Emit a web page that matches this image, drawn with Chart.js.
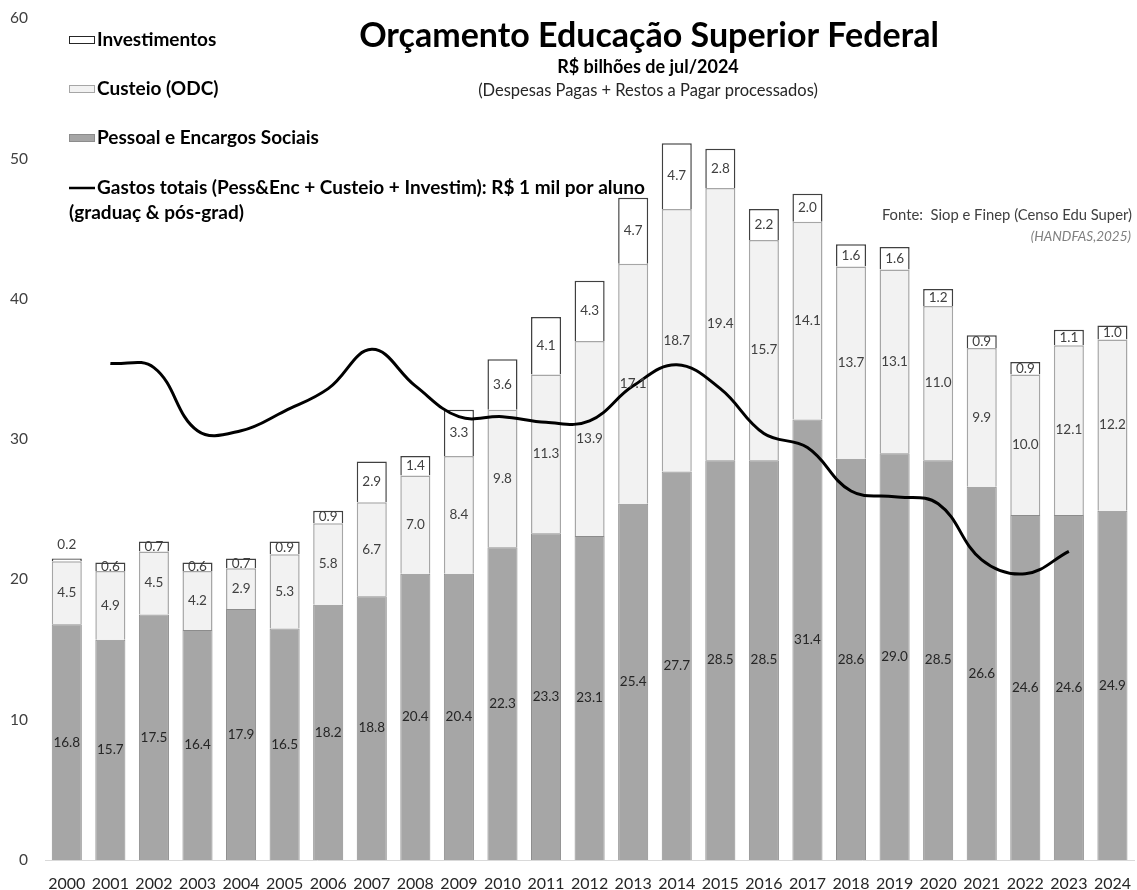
<!DOCTYPE html>
<html>
<head>
<meta charset="utf-8">
<script src="https://cdn.jsdelivr.net/npm/chart.js@4.4.1/dist/chart.umd.min.js"></script>
<style>
  html, body { margin: 0; padding: 0; background: #fff; }
</style>
</head>
<body>
<canvas id="orcChart" width="1137" height="890"></canvas>
<script>
var years = ["2000","2001","2002","2003","2004","2005","2006","2007","2008","2009","2010","2011","2012",
  "2013","2014","2015","2016","2017","2018","2019","2020","2021","2022","2023","2024"];
var pessoal = [16.8, 15.7, 17.5, 16.4, 17.9, 16.5, 18.2, 18.8, 20.4, 20.4, 22.3, 23.3, 23.1,
  25.4, 27.7, 28.5, 28.5, 31.4, 28.6, 29.0, 28.5, 26.6, 24.6, 24.6, 24.9];
var custeio = [4.5, 4.9, 4.5, 4.2, 2.9, 5.3, 5.8, 6.7, 7.0, 8.4, 9.8, 11.3, 13.9,
  17.1, 18.7, 19.4, 15.7, 14.1, 13.7, 13.1, 11.0, 9.9, 10.0, 12.1, 12.2];
var investimentos = [0.2, 0.6, 0.7, 0.6, 0.7, 0.9, 0.9, 2.9, 1.4, 3.3, 3.6, 4.1, 4.3,
  4.7, 4.7, 2.8, 2.2, 2.0, 1.6, 1.6, 1.2, 0.9, 0.9, 1.1, 1.0];
// R$ mil por aluno
var gastoPorAluno = [null, 35.4, 35.1, 30.6, 30.6, 32.0, 33.6, 36.4, 33.8, 31.6, 31.6, 31.2, 31.3,
  33.8, 35.3, 33.6, 30.4, 29.4, 26.3, 25.9, 25.4, 21.4, 20.4, 22.0, null];
var yTicks = [0, 10, 20, 30, 40, 50, 60];

var titulo = "Orçamento Educação Superior Federal";
var subtitulo = "R$ bilhões de jul/2024";
var nota = "(Despesas Pagas + Restos a Pagar processados)";
var fonte = "Fonte:  Siop e Finep (Censo Edu Super)";
var autor = "(HANDFAS,2025)";
var legLinha = ["Gastos totais (Pess&Enc + Custeio + Investim): R$ 1 mil por aluno", "(graduaç & pós-grad)"];

var FONT = "Lato, 'Open Sans', sans-serif";

// rotulos dentro das barras
var barLabels = {
  id: 'barLabels',
  afterDatasetsDraw: function(chart) {
    var c = chart.ctx;
    c.save();
    c.font = "13.5px " + FONT;
    c.textAlign = 'center';
    c.textBaseline = 'middle';
    for (var d = 1; d < chart.data.datasets.length; d++) {
      var meta = chart.getDatasetMeta(d);
      var vals = chart.data.datasets[d].data;
      c.fillStyle = d == 1 ? '#262626' : '#404040';
      meta.data.forEach(function(bar, i) {
        var v = vals[i];
        var y = (bar.y + bar.base) / 2;
        if (v < 0.4) y = bar.y - 14;
        c.fillText(v.toFixed(1), bar.x, y);
      });
    }
    c.restore();
  }
};

var textos = {
  id: 'textos',
  afterDraw: function(chart) {
    var c = chart.ctx;
    c.save();
    c.fillStyle = '#000';
    c.textBaseline = 'middle';
    c.textAlign = 'center';
    c.font = "bold 34px " + FONT;
    c.fillText(titulo, 649, 36);
    c.font = "bold 18px " + FONT;
    c.fillText(subtitulo, 648, 67);
    c.font = "16.5px " + FONT;
    c.fillStyle = '#262626';
    c.fillText(nota, 648, 91);

    c.textAlign = 'right';
    c.font = "14.8px " + FONT;
    c.fillStyle = '#404040';
    c.fillText(fonte, 1132, 215);
    c.font = "italic 13.5px " + FONT;
    c.fillStyle = '#7f7f7f';
    c.fillText(autor, 1131, 237);

    // legenda
    c.textAlign = 'left';
    c.font = "bold 19px " + FONT;
    var items = [
      {y: 40, fill: '#ffffff', stroke: '#262626', text: 'Investimentos'},
      {y: 89, fill: '#f2f2f2', stroke: '#a6a6a6', text: 'Custeio (ODC)'},
      {y: 138, fill: '#a6a6a6', stroke: '#8c8c8c', text: 'Pessoal e Encargos Sociais'}
    ];
    items.forEach(function(it) {
      c.fillStyle = it.fill;
      c.fillRect(69, it.y - 4, 26, 8);
      c.strokeStyle = it.stroke;
      c.lineWidth = 1;
      c.strokeRect(69.5, it.y - 3.5, 25, 7);
      c.fillStyle = '#000';
      c.fillText(it.text, 97, it.y);
    });
    c.strokeStyle = '#000';
    c.lineWidth = 2.5;
    c.beginPath();
    c.moveTo(69, 188);
    c.lineTo(95, 188);
    c.stroke();
    c.fillText(legLinha[0], 97, 188);
    c.fillText(legLinha[1], 69, 213);
    c.restore();
  }
};

var ctx = document.getElementById("orcChart").getContext('2d');
var orcChart = new Chart(ctx, {
  type: 'bar',
  data: {
    labels: years,
    datasets: [
      {
        type: 'line',
        label: legLinha[0],
        data: gastoPorAluno,
        borderColor: '#000',
        borderWidth: 3,
        tension: 0.4,
        pointRadius: 0,
        fill: false,
        order: 0
      },
      {
        label: 'Pessoal e Encargos Sociais',
        data: pessoal,
        backgroundColor: '#a6a6a6',
        borderColor: '#8c8c8c',
        borderWidth: 1,
        stack: 'orc',
        order: 1
      },
      {
        label: 'Custeio (ODC)',
        data: custeio,
        backgroundColor: '#f2f2f2',
        borderColor: '#a6a6a6',
        borderWidth: 1.5,
        stack: 'orc',
        order: 1
      },
      {
        label: 'Investimentos',
        data: investimentos,
        backgroundColor: '#ffffff',
        borderColor: '#404040',
        borderWidth: 1.5,
        stack: 'orc',
        order: 1
      }
    ]
  },
  options: {
    responsive: false,
    animation: false,
    devicePixelRatio: 1,
    layout: { padding: { top: 14, right: 0, bottom: 0, left: 0 } },
    plugins: {
      legend: { display: false },
      tooltip: { enabled: false }
    },
    datasets: {
      bar: { categoryPercentage: 1, barPercentage: 0.69 }
    },
    scales: {
      x: {
        stacked: true,
        grid: { display: false },
        border: { color: '#d9d9d9', width: 1 },
        ticks: { color: '#262626', font: { family: FONT, size: 16 }, padding: 6, maxRotation: 0, autoSkip: false },
        afterFit: function(scale) { scale.height = 30; }
      },
      y: {
        stacked: true,
        min: 0,
        max: 60,
        grid: { display: false },
        border: { display: false },
        afterBuildTicks: function(scale) {
          scale.ticks = yTicks.map(function(v) { return { value: v }; });
        },
        ticks: { color: '#404040', font: { family: FONT, size: 15.5 }, padding: 9 },
        afterFit: function(scale) { scale.width = 45; }
      }
    }
  },
  plugins: [barLabels, textos]
});
</script>
</body>
</html>
